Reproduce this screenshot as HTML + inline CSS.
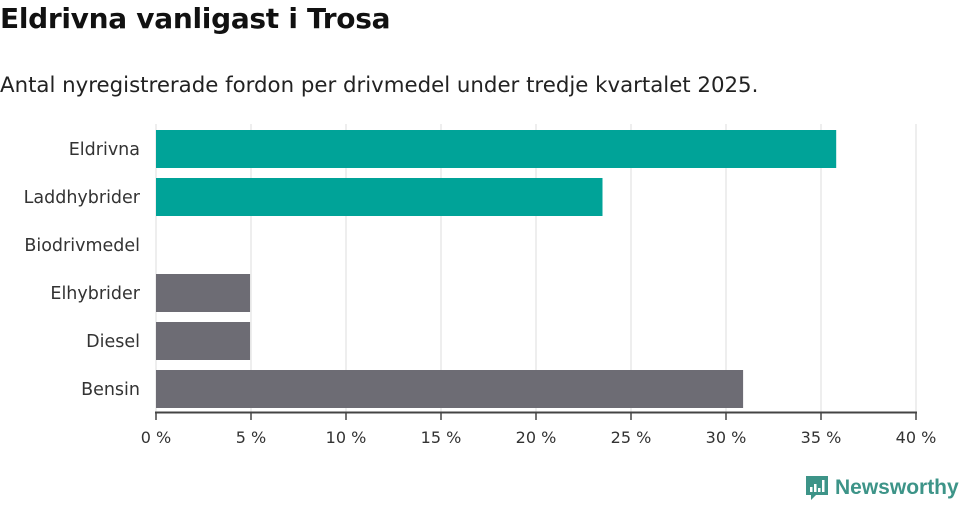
<!DOCTYPE html>
<html><head><meta charset="utf-8"><style>
body{margin:0;background:#fff;font-family:"DejaVu Sans","Liberation Sans",sans-serif;}
#wrap{position:relative;width:960px;height:505px;overflow:hidden}
h1{position:absolute;left:0;top:2px;margin:0;font-size:28px;font-weight:bold;color:#111;letter-spacing:-0.3px}
.sub{position:absolute;left:0;top:73px;font-size:21.3px;color:#222}
svg{position:absolute;left:0;top:0}
.logo{position:absolute;left:805px;top:475px;display:flex;align-items:center;gap:6px;color:#3d9488;font-size:21px;font-weight:bold;font-family:"Liberation Sans",sans-serif}
</style></head><body>
<div id="wrap">
<h1>Eldrivna vanligast i Trosa</h1>
<div class="sub">Antal nyregistrerade fordon per drivmedel under tredje kvartalet 2025.</div>
<svg id="chart" width="960" height="505"></svg>
<div class="logo">
<svg width="24" height="26" viewBox="0 0 24 26" style="position:static"><path d="M1 1h22v19H11l-5 5v-5H1z" fill="#3d9488"/><rect x="5" y="12" width="2.5" height="5" fill="#fff"/><rect x="9" y="9" width="2.5" height="8" fill="#fff"/><rect x="13" y="13" width="2.5" height="4" fill="#fff"/><rect x="17" y="5" width="2.5" height="12" fill="#fff"/></svg>
<span>Newsworthy</span></div>
</div>
<script>
const categories=["Eldrivna","Laddhybrider","Biodrivmedel","Elhybrider","Diesel","Bensin"];
const values=[35.8,23.5,0,4.95,4.95,30.9];
const colors=["#00a398","#00a398","#00a398","#6d6c74","#6d6c74","#6d6c74"];
const ticks=[0,5,10,15,20,25,30,35,40];
const tickLabels=["0 %","5 %","10 %","15 %","20 %","25 %","30 %","35 %","40 %"];
const NS="http://www.w3.org/2000/svg";
const svg=document.getElementById('chart');
const x=v=>156+v*19;
const y=i=>130+i*48;
const bh=38;
function mk(t,a){const e=document.createElementNS(NS,t);for(const k in a)e.setAttribute(k,a[k]);svg.appendChild(e);return e;}
ticks.forEach((t,i)=>{
 const g=mk('line',{x1:x(t),x2:x(t),y1:124,y2:412,stroke:'#dcdcdc','stroke-width':1});
 
 
 const tk=mk('line',{x1:x(t),x2:x(t),y1:412,y2:420,stroke:'#444','stroke-width':1.5});
 
 
 const l=mk('text',{x:x(t),y:443,'text-anchor':'middle','font-size':16,fill:'#333'});
 l.textContent=tickLabels[i];
 
 
});
categories.forEach((c,i)=>{
 const r=mk('rect',{x:x(0),y:y(i),width:x(values[i])-x(0),height:bh,fill:colors[i]});
 
 
 const l=mk('text',{x:140,y:y(i)+bh/2+6,'text-anchor':'end','font-size':17.5,fill:'#333'});
 l.textContent=c;
 
 
});
const ax=mk('line',{x1:155,x2:917,y1:412.5,y2:412.5,stroke:'#444','stroke-width':2});


</script>
</body></html>
